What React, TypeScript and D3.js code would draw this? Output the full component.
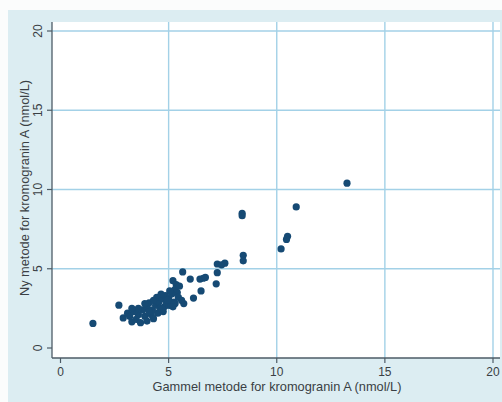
import React from "react";
import * as d3 from "d3";

const oldMethod: number[] = [
  13.25, 10.9, 8.4, 8.4, 10.5, 10.45, 10.2, 8.45, 8.45, 7.25, 7.6, 7.45, 7.25, 7.2,
  6.6, 6.45, 6.7, 6.5, 6.15, 5.7, 5.65, 6.0, 5.2, 5.35, 5.3, 5.4, 5.45, 5.5, 1.5, 2.7,
  2.9, 3.1, 3.3, 3.2, 3.5, 3.6, 3.4, 3.7, 3.8, 3.9, 4.0, 4.0, 4.1, 4.2, 4.25, 4.3,
  4.4, 4.45, 4.5, 4.55, 4.6, 4.7, 4.75, 4.8, 4.85, 4.9, 5.0, 5.0, 5.1, 5.15, 5.25,
  5.3, 4.3, 3.9, 3.6, 4.65, 5.05, 4.95, 5.6, 5.2, 3.3, 4.1, 4.7,
];
const newMethod: number[] = [
  10.4, 8.9, 8.5, 8.35, 7.05, 6.85, 6.25, 5.85, 5.5, 5.3, 5.35, 5.25, 4.75, 4.05,
  4.4, 4.35, 4.45, 3.6, 3.15, 2.8, 4.8, 4.35, 4.25, 4.0, 3.7, 3.5, 3.2, 3.9, 1.55, 2.7,
  1.9, 2.2, 1.65, 2.0, 1.8, 2.1, 2.3, 1.6, 2.4, 2.0, 1.7, 2.6, 2.85, 2.1, 2.4, 1.85,
  2.7, 3.2, 2.2, 2.9, 2.5, 3.1, 2.3, 2.6, 3.3, 2.8, 2.7, 3.1, 2.7, 3.4, 2.9,
  2.8, 3.0, 2.8, 2.5, 3.4, 3.6, 3.0, 3.0, 2.6, 2.5, 2.3, 2.45,
];
const tickValues: number[] = [0, 5, 10, 15, 20];
const gridValues: number[] = [5, 10, 15, 20];
const xTitle = "Gammel metode for kromogranin A (nmol/L)";
const yTitle = "Ny metode for kromogranin A (nmol/L)";

export default function App() {
  const x = d3.scaleLinear().domain([0, 20]).range([60.5, 493]);
  const y = d3.scaleLinear().domain([0, 20]).range([348, 31]);
  const font = "'Liberation Sans', Arial, sans-serif";
  const axisColor = "#4d5b66";
  const gridColor = "#a3d1e7";
  const textColor = "#3a3f44";
  const pts = oldMethod.map((v, i) => [v, newMethod[i]]);
  return (
    <svg
      width={502}
      height={402}
      style={{ position: "absolute", left: 0, top: 0 }}
      fontFamily={font}
    >
      <rect x={0} y={0} width={502} height={402} fill="#fbfcfc" />
      <rect x={8} y={10} width={494} height={392} fill="#dcedf2" />
      <rect x={52} y={22} width={448} height={336} fill="#ffffff" />
      {gridValues.map((g) => (
        <line key={"gx" + g} x1={x(g)} x2={x(g)} y1={22} y2={358} stroke={gridColor} strokeWidth={1.4} />
      ))}
      {gridValues.map((g) => (
        <line key={"gy" + g} x1={52} x2={500} y1={y(g)} y2={y(g)} stroke={gridColor} strokeWidth={1.4} />
      ))}
      <line x1={52} x2={52} y1={22} y2={358} stroke={axisColor} strokeWidth={1.3} />
      <line x1={52} x2={500} y1={358} y2={358} stroke={axisColor} strokeWidth={1.3} />
      {tickValues.map((t) => (
        <g key={"ty" + t}>
          <line x1={47} x2={52} y1={y(t)} y2={y(t)} stroke={axisColor} strokeWidth={1.2} />
          <text
            transform={`translate(42,${y(t)}) rotate(-90)`}
            textAnchor="middle"
            fontSize={12}
            fill={textColor}
          >
            {t}
          </text>
        </g>
      ))}
      {tickValues.map((t) => (
        <g key={"tx" + t}>
          <line x1={x(t)} x2={x(t)} y1={358} y2={363} stroke={axisColor} strokeWidth={1.2} />
          <text x={x(t)} y={376} textAnchor="middle" fontSize={12} fill={textColor}>
            {t}
          </text>
        </g>
      ))}
      <text x={277} y={391} textAnchor="middle" fontSize={12.8} fill={textColor}>
        {xTitle}
      </text>
      <text
        transform={`translate(29,${188}) rotate(-90)`}
        textAnchor="middle"
        fontSize={12.8}
        fill={textColor}
      >
        {yTitle}
      </text>
      {pts.map(([a, b], i) => (
        <circle key={i} cx={x(a)} cy={y(b)} r={3.6} fill="#164a74" />
      ))}
    </svg>
  );
}
